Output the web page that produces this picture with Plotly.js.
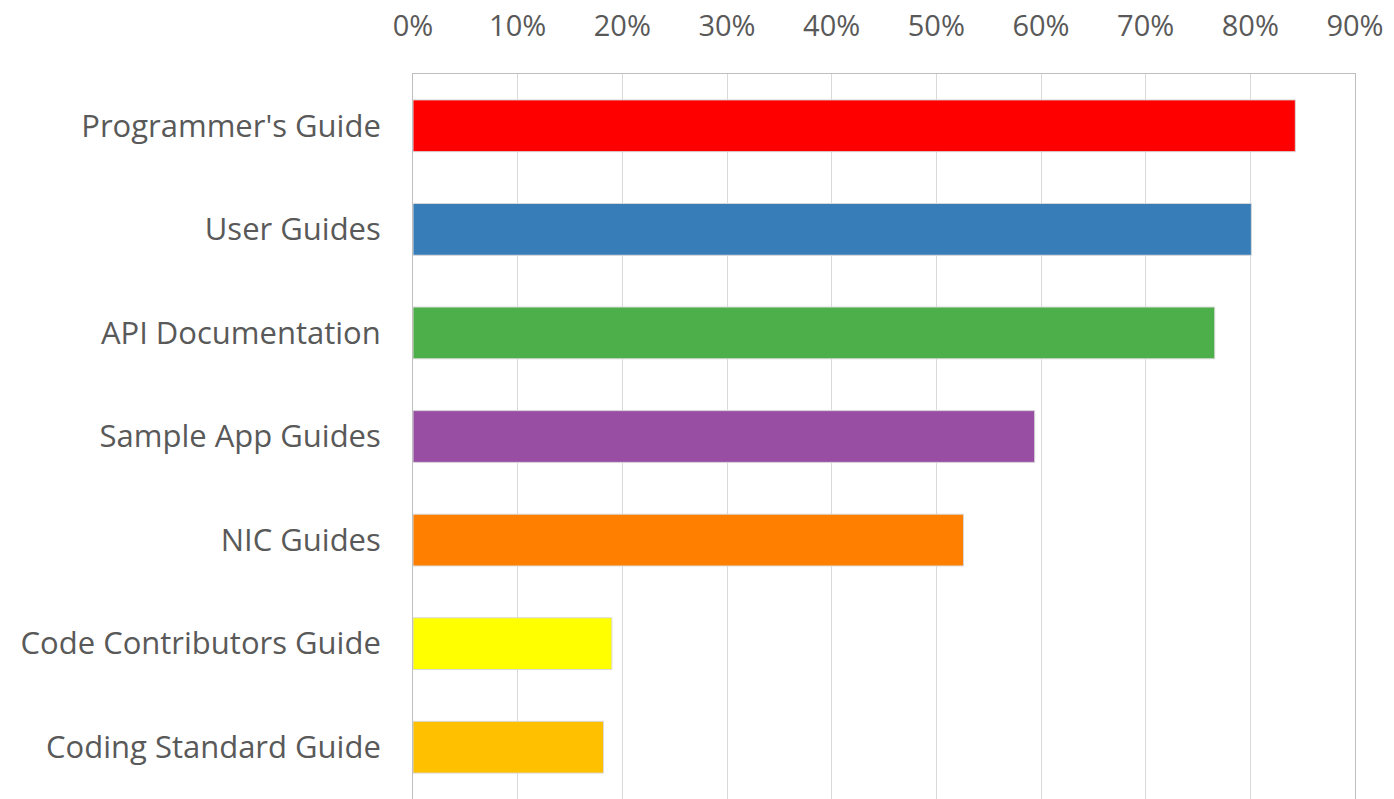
<!DOCTYPE html>
<html>
<head>
<meta charset="utf-8">
<script src="https://cdn.plot.ly/plotly-3.0.1.min.js"></script>
<style>html,body{margin:0;padding:0;background:#fff;overflow:hidden}#chart{width:1394px;height:799px}</style>
</head>
<body>
<div id="chart"></div>
<script>
const categories = ["Programmer's Guide", "User Guides", "API Documentation", "Sample App Guides", "NIC Guides", "Code Contributors Guide", "Coding Standard Guide"];
const values = [0.843, 0.801, 0.766, 0.594, 0.526, 0.19, 0.182];
const colors = ["#FF0000", "#377EB8", "#4DAF4A", "#984EA3", "#FF7F00", "#FFFF00", "#FFC000"];
const tickVals = [0, 0.1, 0.2, 0.3, 0.4, 0.5, 0.6, 0.7, 0.8, 0.9];

const trace = {
  type: 'bar',
  orientation: 'h',
  x: values,
  y: categories,
  width: 0.5,
  marker: {color: colors, line: {color: '#d9d9d9', width: 1}},
  hoverinfo: 'x+y'
};

const yFont = {family: 'Open Sans, sans-serif', size: 31, color: '#595959'};
const xFont = {family: 'Open Sans, sans-serif', size: 29, color: '#595959'};

const layout = {
  width: 1394,
  height: 799,
  margin: {l: 413, r: 39, t: 74, b: 0, pad: 0},
  paper_bgcolor: '#ffffff',
  plot_bgcolor: '#ffffff',
  showlegend: false,
  font: yFont,
  bargap: 0.5,
  xaxis: {
    side: 'top',
    range: [0, 0.9],
    tickvals: tickVals,
    tickformat: '.0%',
    showgrid: true,
    gridcolor: '#d9d9d9',
    gridwidth: 1,
    zeroline: false,
    showline: true,
    mirror: true,
    linecolor: '#bfbfbf',
    linewidth: 1,
    ticks: '',
    ticklabelstandoff: 25,
    tickfont: xFont,
    fixedrange: true
  },
  yaxis: {
    type: 'category',
    autorange: false,
    range: [6.5, -0.5],
    showgrid: false,
    zeroline: false,
    showline: true,
    mirror: true,
    linecolor: '#bfbfbf',
    linewidth: 1,
    ticks: '',
    ticklabelstandoff: 25,
    tickfont: yFont,
    fixedrange: true
  }
};

Plotly.newPlot('chart', [trace], layout, {displayModeBar: false, staticPlot: true});
</script>
</body>
</html>
